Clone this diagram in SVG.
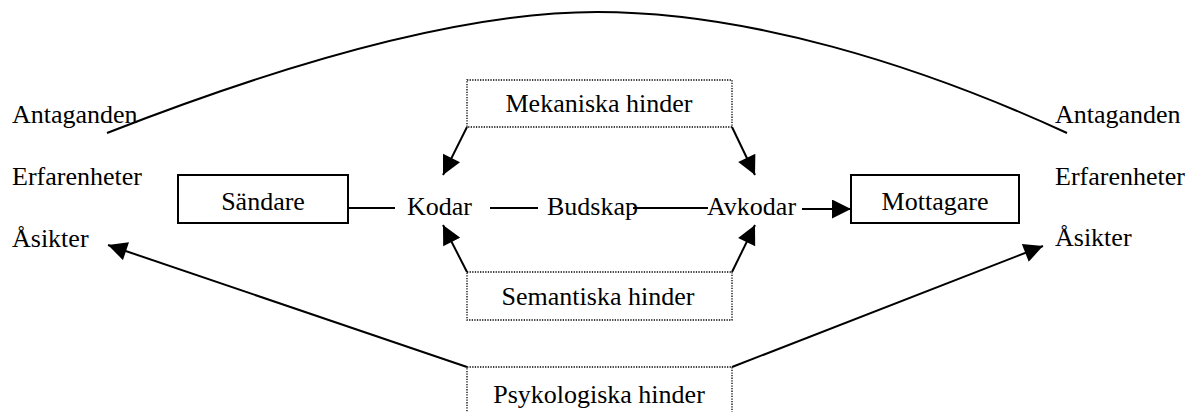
<svg xmlns="http://www.w3.org/2000/svg" width="1192" height="412" viewBox="0 0 1192 412">
  <style>
    text { font-family: "Liberation Serif", "Times New Roman", serif; font-size: 26px; fill: #000; }
    .mid { text-anchor: middle; }
    .box { fill: none; stroke: #000; stroke-width: 2; }
    .dotbox { fill: none; stroke: #000; stroke-width: 1.3; stroke-dasharray: 1.3 1.3; }
    .line { fill: none; stroke: #000; stroke-width: 2; }
    .arrow { fill: none; stroke: #000; stroke-width: 2; marker-end: url(#head); }
  </style>
  <defs>
    <marker id="head" viewBox="0 0 20 20" refX="20" refY="10" markerWidth="20" markerHeight="19" markerUnits="userSpaceOnUse" orient="auto">
      <path d="M0,0 L20,10 L0,20 z" fill="#000"/>
    </marker>
  </defs>
  <rect width="1192" height="412" fill="#fff"/>

  <!-- connectors -->
  <g id="connectors">
    <path class="line" d="M107,133 C257,74.5 447,12 597,12 C747,12 917,64 1067,133"/>
    <line class="line" x1="348" y1="208" x2="395" y2="208"/>
    <line class="line" x1="490" y1="208" x2="538" y2="208"/>
    <line class="line" x1="633" y1="208" x2="708" y2="208"/>
    <line class="arrow" x1="802" y1="209" x2="851" y2="209"/>
    <line class="arrow" x1="467" y1="127" x2="443" y2="175"/>
    <line class="arrow" x1="732" y1="127" x2="755" y2="175"/>
    <line class="arrow" x1="467" y1="272" x2="443" y2="225"/>
    <line class="arrow" x1="732" y1="272" x2="755" y2="225"/>
    <line class="arrow" x1="467" y1="367" x2="108" y2="245"/>
    <line class="arrow" x1="732" y1="367" x2="1043" y2="246"/>
  </g>

  <g id="sender-attitudes">
    <text x="12" y="123">Antaganden</text>
    <text x="12" y="185">Erfarenheter</text>
    <text x="12" y="247">Åsikter</text>
  </g>
  <g id="receiver-attitudes">
    <text x="1055" y="123">Antaganden</text>
    <text x="1055" y="185">Erfarenheter</text>
    <text x="1055" y="246">Åsikter</text>
  </g>

  <g id="sandare">
    <rect class="box" x="178" y="175" width="170" height="48"/>
    <text class="mid" x="263" y="210">Sändare</text>
  </g>
  <g id="kodar">
    <text x="407" y="215">Kodar</text>
  </g>
  <g id="budskap">
    <text x="547" y="215">Budskap</text>
  </g>
  <g id="avkodar">
    <text x="707" y="215">Avkodar</text>
  </g>
  <g id="mottagare">
    <rect class="box" x="851" y="175" width="168" height="48"/>
    <text class="mid" x="935" y="210">Mottagare</text>
  </g>

  <g id="mekaniska-hinder">
    <rect class="dotbox" x="467" y="80" width="265" height="47"/>
    <text class="mid" x="599" y="112">Mekaniska hinder</text>
  </g>
  <g id="semantiska-hinder">
    <rect class="dotbox" x="467" y="272" width="265" height="48"/>
    <text class="mid" x="598" y="305">Semantiska hinder</text>
  </g>
  <g id="psykologiska-hinder">
    <rect class="dotbox" x="467" y="367" width="265" height="60"/>
    <text class="mid" x="599" y="403">Psykologiska hinder</text>
  </g>
</svg>
